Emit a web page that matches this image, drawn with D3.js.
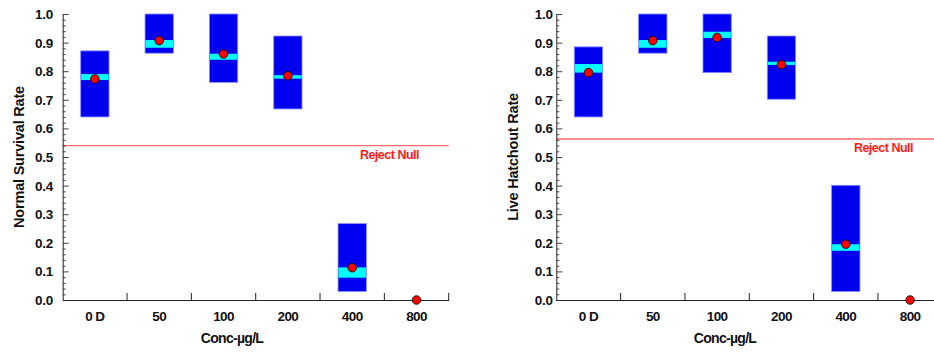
<!DOCTYPE html>
<html><head><meta charset="utf-8">
<script src="https://cdn.jsdelivr.net/npm/d3@7"></script>
<style>body{margin:0;background:#fff}svg{display:block;font-family:"Liberation Sans",Arial,sans-serif}</style>
</head><body><svg id="c" width="934" height="356"></svg>
<script>
const categories = ["0 D","50","100","200","400","800"];
const yTicks = [0,0.1,0.2,0.3,0.4,0.5,0.6,0.7,0.8,0.9,1.0];

// Normal Survival Rate
const survLow   = [0.640, 0.863, 0.761, 0.668, 0.030, null];
const survHigh  = [0.871, 1.000, 1.000, 0.923, 0.267, null];
const survBandLow  = [0.769, 0.882, 0.840, 0.774, 0.078, null];
const survBandHigh = [0.790, 0.909, 0.861, 0.786, 0.114, null];
const survMean  = [0.773, 0.907, 0.860, 0.784, 0.113, 0.0];
const survReject = 0.540;

// Live Hatchout Rate
const hatchLow   = [0.640, 0.863, 0.795, 0.702, 0.030, null];
const hatchHigh  = [0.885, 1.000, 1.000, 0.923, 0.401, null];
const hatchBandLow  = [0.795, 0.882, 0.916, 0.822, 0.172, null];
const hatchBandHigh = [0.825, 0.909, 0.938, 0.833, 0.195, null];
const hatchMean  = [0.795, 0.907, 0.918, 0.823, 0.195, 0.0];
const hatchReject = 0.563;

const svg = d3.select("#c");

const panels = [
  {x0:62.7, title:"Normal Survival Rate", titleX:19, xTitleX:232, labelGap:9.5, rejectTextEnd:419,
   low:survLow, high:survHigh, bl:survBandLow, bh:survBandHigh, mean:survMean, reject:survReject},
  {x0:556.3, title:"Live Hatchout Rate", titleX:513, xTitleX:725, labelGap:3.5, rejectTextEnd:913,
   low:hatchLow, high:hatchHigh, bl:hatchBandLow, bh:hatchBandHigh, mean:hatchMean, reject:hatchReject}
];

panels.forEach(p => {
  const W = 386;
  const x = d3.scaleBand().domain(categories).range([p.x0, p.x0 + W]);
  const y = d3.scaleLinear().domain([0,1]).range([300,14]);
  const g = svg.append("g");
  const bw = x.bandwidth()*0.44;
  const cx = c => x(c) + x.bandwidth()/2;

  categories.forEach((c,i) => {
    if (p.low[i] != null) {
      g.append("rect").attr("x", cx(c)-bw/2).attr("width", bw)
        .attr("y", y(p.high[i])).attr("height", y(p.low[i]) - y(p.high[i]))
        .attr("fill", "#0000f0").attr("stroke", "#8a8aff").attr("stroke-width", 0.8);
      g.append("rect").attr("x", cx(c)-bw/2+0.4).attr("width", bw-0.8)
        .attr("y", y(p.bh[i])).attr("height", y(p.bl[i]) - y(p.bh[i]))
        .attr("fill", "#00ffff");
    }
  });

  g.append("line").attr("x1", p.x0).attr("x2", p.x0 + W)
    .attr("y1", y(p.reject)).attr("y2", y(p.reject))
    .attr("stroke", "#ff6b6b").attr("stroke-width", 1.3);
  g.append("text").attr("x", p.rejectTextEnd).attr("y", y(p.reject) + 13.5)
    .attr("text-anchor", "end").attr("fill", "#ff1a1a")
    .attr("font-size", 12.5).attr("font-weight", "bold").attr("letter-spacing", -0.5)
    .text("Reject Null");

  const yAxis = d3.axisRight(y).tickValues(d3.range(0, 1.0001, 0.02)).tickSize(3).tickFormat("");
  const ya = g.append("g").attr("transform", `translate(${p.x0},0)`).call(yAxis);
  ya.select(".domain").attr("stroke", "#222");
  ya.selectAll(".tick line").attr("stroke", "#444")
    .attr("x2", d => (Math.round(d*100) % 10 === 0) ? 6 : 3);
  yTicks.forEach(v => {
    g.append("text").attr("x", p.x0 - p.labelGap).attr("y", y(v) + 5)
      .attr("text-anchor", "end").attr("font-size", 13.5).attr("font-weight", "bold")
      .attr("letter-spacing", -0.2).attr("fill", "#111").text(v.toFixed(1));
  });

  const xa = g.append("g").attr("transform", "translate(0,300)")
    .call(d3.axisTop(x).tickSize(0).tickFormat(""));
  xa.select(".domain").attr("stroke", "#222");
  xa.selectAll(".tick").remove();
  const edges = categories.map(c => x(c)).slice(1).concat([p.x0 + W]);
  edges.forEach(e => {
    g.append("line").attr("x1", e).attr("x2", e).attr("y1", 300).attr("y2", 293)
      .attr("stroke", "#222");
  });
  categories.forEach(c => {
    g.append("text").attr("x", cx(c)).attr("y", 321).attr("text-anchor", "middle")
      .attr("font-size", 13.5).attr("font-weight", "bold").attr("letter-spacing", -0.6)
      .attr("fill", "#111").text(c);
  });

  categories.forEach((c,i) => {
    g.append("circle").attr("cx", cx(c)).attr("cy", y(p.mean[i])).attr("r", 4.3)
      .attr("fill", "#ff0000").attr("stroke", "#000").attr("stroke-width", 0.8);
  });

  g.append("text").attr("transform", `translate(${p.titleX + 5},157) rotate(-90)`)
    .attr("text-anchor", "middle").attr("font-size", 14.5).attr("font-weight", "bold")
    .attr("letter-spacing", -0.2).attr("fill", "#111").text(p.title);
  g.append("text").attr("x", p.xTitleX).attr("y", 343).attr("text-anchor", "middle")
    .attr("font-size", 14).attr("font-weight", "bold").attr("letter-spacing", -0.7)
    .attr("fill", "#111").text("Conc-µg/L");
});
</script></body></html>
